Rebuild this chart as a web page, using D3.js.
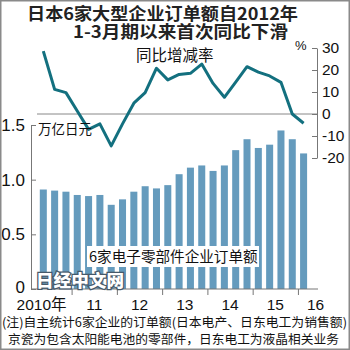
<!DOCTYPE html>
<html lang="zh-CN">
<head>
<meta charset="utf-8">
<script src="https://cdn.jsdelivr.net/npm/d3@7"></script>
<style>
  html, body { margin: 0; padding: 0; background: #fff; }
  svg { display: block; }
  .cjk { font-family: "Noto Sans CJK SC", "Noto Sans", sans-serif; }
  .num { font-family: "Liberation Sans Narrow", "Liberation Sans", Arial, sans-serif; }
  .num2 { font-family: "Liberation Sans", Arial, sans-serif; }
</style>
</head>
<body>
<svg id="chart" width="350" height="350"></svg>
<script>
// Quarters from Apr-Jun 2010 to Jan-Mar 2016
const quarters = [
  "2010Q2","2010Q3","2010Q4",
  "2011Q1","2011Q2","2011Q3","2011Q4",
  "2012Q1","2012Q2","2012Q3","2012Q4",
  "2013Q1","2013Q2","2013Q3","2013Q4",
  "2014Q1","2014Q2","2014Q3","2014Q4",
  "2015Q1","2015Q2","2015Q3","2015Q4",
  "2016Q1"
];
// Orders of the 6 electronic-component makers (trillion yen)
const orders = [
  0.91, 0.90, 0.89,
  0.86, 0.85, 0.86, 0.77,
  0.82, 0.89, 0.94, 0.92,
  0.95, 1.05, 1.11, 1.13,
  1.08, 1.13, 1.27, 1.37,
  1.29, 1.32, 1.45, 1.37,
  1.24
];
// Year-on-year change (%)
const yoy = [
  28.6, 11.2, 9.7,
  1.4, -7.0, -4.5, -14.5,
  -4.5, 4.9, 9.7, 20.8,
  15.5, 18.0, 18.5, 22.7,
  13.9, 7.6, 14.5, 21.5,
  19.0, 17.3, 14.4, 0.0,
  -4.2
];
const leftTicks = [0, 0.5, 1.0, 1.5];
const rightTicks = [-20, -10, 0, 10, 20, 30];
const yearLabels = ["2010年", "11", "12", "13", "14", "15", "16"];
const titleLines = ["日本6家大型企业订单额自2012年", "1-3月期以来首次同比下滑"];
const noteLines = [
  "(注)自主统计6家企业的订单额(日本电产、日东电工为销售额)",
  "京瓷为包含太阳能电池的零部件，日东电工为液晶相关业务"
];

const svg = d3.select("#chart");
const W = 350, H = 350;

const axisLeftX = 31, axisRightX = 317, baseY = 289;

const x = d3.scaleBand()
  .domain(quarters)
  .range([37.65, 309.25])
  .paddingInner(0.38)
  .paddingOuter(0.19);
const step = x.step();
const cx = q => x(q) + x.bandwidth() / 2;

const yL = d3.scaleLinear().domain([0, 1.5]).range([baseY, 125]);
const yR = d3.scaleLinear().domain([-20, 30]).range([158, 48]);

svg.append("rect").attr("x", 0).attr("y", 0).attr("width", W).attr("height", H)
  .attr("fill", "#fff");

// title
const titleGeom = [{ x: 27, y: 20, len: 271 }, { x: 73, y: 38, len: 215 }];
svg.append("g").selectAll("text")
  .data(titleLines)
  .join("text")
  .attr("class", "cjk")
  .attr("x", (d, i) => titleGeom[i].x)
  .attr("y", (d, i) => titleGeom[i].y)
  .attr("textLength", (d, i) => titleGeom[i].len)
  .attr("lengthAdjust", "spacingAndGlyphs")
  .attr("font-size", 16.5).attr("font-weight", "bold").attr("fill", "#222")
  .text(d => d);

// bars
svg.append("g").selectAll("rect")
  .data(quarters)
  .join("rect")
  .attr("x", d => x(d))
  .attr("width", x.bandwidth())
  .attr("y", (d, i) => yL(orders[i]))
  .attr("height", (d, i) => yL(0) - yL(orders[i]))
  .attr("fill", "#659bbd");

// series label box over the bars
svg.append("rect").attr("x", 87).attr("y", 246).attr("width", 172).attr("height", 21)
  .attr("fill", "#fff");
svg.append("text").attr("class", "cjk")
  .attr("x", 89).attr("y", 262)
  .attr("font-size", 14.6).attr("fill", "#111")
  .text("6家电子零部件企业订单额");

// zero line of the change-rate panel
svg.append("line")
  .attr("x1", 37).attr("x2", axisRightX)
  .attr("y1", yR(0)).attr("y2", yR(0))
  .attr("stroke", "#888").attr("stroke-width", 1);

// change-rate line
const line = d3.line()
  .x((d, i) => cx(quarters[i]))
  .y(d => yR(d));
svg.append("path")
  .datum(yoy)
  .attr("d", line)
  .attr("fill", "none")
  .attr("stroke", "#13707f")
  .attr("stroke-width", 3)
  .attr("stroke-linejoin", "round");

svg.append("text").attr("class", "cjk")
  .attr("x", 136).attr("y", 61)
  .attr("font-size", 15.5).attr("fill", "#111")
  .text("同比增减率");

// left axis (trillion yen)
const gL = svg.append("g").attr("transform", `translate(${axisLeftX},0)`)
  .call(d3.axisLeft(yL).tickValues(leftTicks)
    .tickSizeInner(-5).tickSizeOuter(0).tickPadding(6)
    .tickFormat(d => d === 0 ? "0" : d3.format(".1f")(d)));
gL.selectAll("path, line").attr("stroke", "#777");
gL.selectAll("text").attr("class", "num").attr("font-size", 17).attr("fill", "#111");
gL.selectAll(".tick text").filter(d => d === 0).attr("dy", "0.2em");

svg.append("text").attr("class", "cjk")
  .attr("x", 38).attr("y", 134)
  .attr("font-size", 13.5).attr("fill", "#111")
  .text("万亿日元");

// right axis (%)
const gR = svg.append("g").attr("transform", `translate(${axisRightX},0)`)
  .call(d3.axisRight(yR).tickValues(rightTicks)
    .tickSizeInner(-5).tickSizeOuter(0).tickPadding(5)
    .tickFormat(d => String(d)));
gR.selectAll("path, line").attr("stroke", "#777");
gR.selectAll("text").attr("class", "num2").attr("font-size", 15.5).attr("fill", "#111");

svg.append("text").attr("class", "num2")
  .attr("x", 295).attr("y", 50)
  .attr("font-size", 13).attr("fill", "#111")
  .text("%");

// bottom axis: baseline with ticks at year boundaries
svg.append("line")
  .attr("x1", axisLeftX).attr("x2", axisRightX + 1)
  .attr("y1", baseY).attr("y2", baseY)
  .attr("stroke", "#777");

const boundaryIdx = quarters.map((q, i) => i).filter(i => i > 0 && quarters[i].endsWith("Q1"));
const boundaryX = boundaryIdx.map(i => cx(quarters[i]) - step / 2);
const xb = d3.scaleLinear().domain([0, W]).range([0, W]);
const gX = svg.append("g").attr("transform", `translate(0,${baseY})`)
  .call(d3.axisBottom(xb).tickValues(boundaryX).tickSize(6).tickFormat(""));
gX.select(".domain").remove();
gX.selectAll("line").attr("stroke", "#777");

// year labels
const labelPos = yearLabels.map((lab, i) => {
  if (i === 0) return { x: boundaryX[0] - 5, anchor: "end" };
  if (i === yearLabels.length - 1) return { x: boundaryX[i - 1] + 9, anchor: "start" };
  return { x: (boundaryX[i - 1] + boundaryX[i]) / 2, anchor: "middle" };
});
svg.append("g").selectAll("text")
  .data(yearLabels)
  .join("text")
  .attr("x", (d, i) => labelPos[i].x)
  .attr("y", 310)
  .attr("text-anchor", (d, i) => labelPos[i].anchor)
  .attr("font-size", 15.5).attr("fill", "#111")
  .attr("font-family", "'Liberation Sans', Arial, 'Noto Sans CJK SC', sans-serif")
  .text(d => d);

// watermark
svg.append("text").attr("class", "cjk")
  .attr("x", 36).attr("y", 287)
  .attr("textLength", 88).attr("lengthAdjust", "spacingAndGlyphs")
  .attr("font-size", 17).attr("font-weight", "900")
  .attr("fill", "#fff").attr("stroke", "#46596a").attr("stroke-width", 2.5)
  .attr("paint-order", "stroke")
  .text("日经中文网");

// notes
const noteGeom = [{ x: 2, y: 327, len: 345 }, { x: 8, y: 344, len: 331 }];
svg.append("g").selectAll("text")
  .data(noteLines)
  .join("text")
  .attr("class", "cjk")
  .attr("x", (d, i) => noteGeom[i].x)
  .attr("y", (d, i) => noteGeom[i].y)
  .attr("textLength", (d, i) => noteGeom[i].len)
  .attr("lengthAdjust", "spacingAndGlyphs")
  .attr("font-size", 12.5).attr("fill", "#111")
  .text(d => d);

// frame
svg.append("rect").attr("x", 0.75).attr("y", 0.75).attr("width", W - 1.5).attr("height", H - 1.5)
  .attr("fill", "none").attr("stroke", "#8a8a8a").attr("stroke-width", 1.5);
</script>
</body>
</html>
